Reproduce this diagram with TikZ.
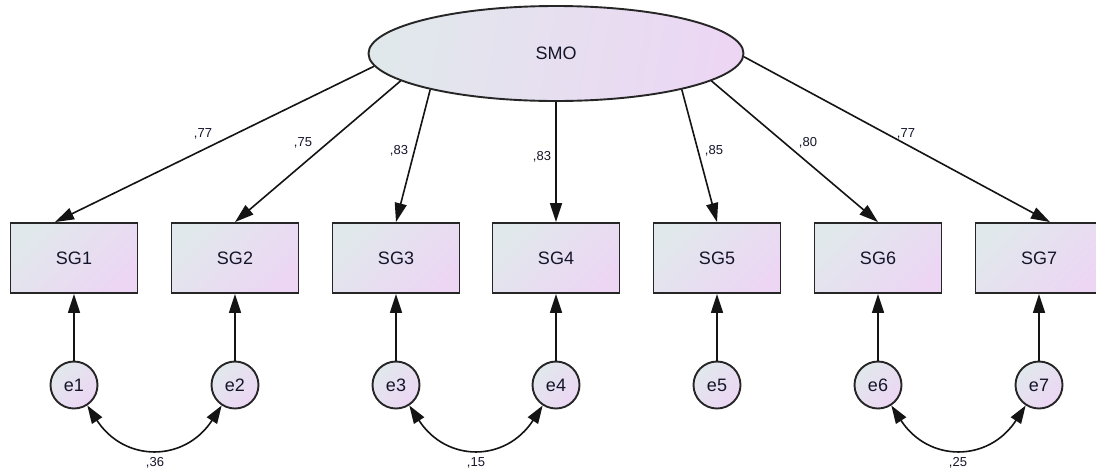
\documentclass[tikz,border=0pt]{standalone}
\usepackage{fontspec}
\setmainfont{Liberation Sans}
\usetikzlibrary{arrows.meta,shapes.geometric,calc}
\definecolor{cA}{HTML}{E1E8EC}
\definecolor{cB}{HTML}{ECD6F4}
\definecolor{bd}{HTML}{262626}
\definecolor{ln}{HTML}{141414}
\definecolor{tx}{HTML}{15152A}
\begin{document}
\begin{tikzpicture}[x=1pt,y=-1pt,
  lat/.style={ellipse,draw=bd,line width=1.9pt,top color=cA,bottom color=cB,shading angle=80,
    minimum width=375pt,minimum height=95pt,inner sep=0pt,text=tx,font=\fontsize{18}{20}\selectfont},
  obs/.style={rectangle,draw=bd,line width=1.9pt,top color=cA,bottom color=cB,shading angle=45,
    minimum width=127pt,minimum height=70pt,inner sep=0pt,text=tx,font=\fontsize{18}{20}\selectfont},
  err/.style={circle,draw=bd,line width=1.9pt,top color=cA,bottom color=cB,shading angle=45,
    minimum size=47pt,inner sep=0pt,text=tx,font=\fontsize{18}{20}\selectfont},
  coef/.style={inner sep=0pt,text=tx,font=\fontsize{13}{15}\selectfont},
  arr/.style={line width=1.6pt,draw=ln,-{Triangle[length=19pt,width=12pt]}},
  darr/.style={line width=1.6pt,draw=ln,{Triangle[length=18pt,width=12pt]}-{Triangle[length=18pt,width=12pt]}},
]
\useasboundingbox (0,0) rectangle (1096,475);
\fill[white] (0,0) rectangle (1096,475);

\node[lat] (smo) at (556,53.5) {SMO};

\foreach \i/\x in {1/74,2/235,3/396,4/556,5/717,6/878,7/1039}{
  \node[obs] (sg\i) at (\x,258) {SG\i};
  \node[err] (e\i) at (\x,385) {e\i};
  \draw[arr] (e\i) -- (sg\i);
}

% loadings
\draw[arr] (smo.184) -- ($(sg1.north)+(-19,0)$);
\draw[arr] (smo.190) -- (sg2.north);
\draw[arr] (smo.196) -- (sg3.north);
\draw[arr] (smo.270) -- (sg4.north);
\draw[arr] (smo.344) -- (sg5.north);
\draw[arr] (smo.350) -- (sg6.north);
\draw[arr] (smo.359) -- ($(sg7.north)+(11,0)$);

\node[coef] (l1) at (203,134) {,77};
\node[coef] (l2) at (303,143) {,75};
\node[coef] (l3) at (399,151) {,83};
\node[coef] (l4) at (542,157) {,83};
\node[coef] (l5) at (714,151) {,85};
\node[coef] (l6) at (808,143) {,80};
\node[coef] (l7) at (906,134) {,77};

% covariances
\draw[darr] (e1.-57) .. controls +(57:68) and +(123:68) .. (e2.-123);
\draw[darr] (e3.-57) .. controls +(57:68) and +(123:68) .. (e4.-123);
\draw[darr] (e6.-57) .. controls +(57:68) and +(123:68) .. (e7.-123);

\node[coef] (c12) at (155,463) {,36};
\node[coef] (c34) at (476,463) {,15};
\node[coef] (c67) at (958,463) {,25};
\end{tikzpicture}
\end{document}
